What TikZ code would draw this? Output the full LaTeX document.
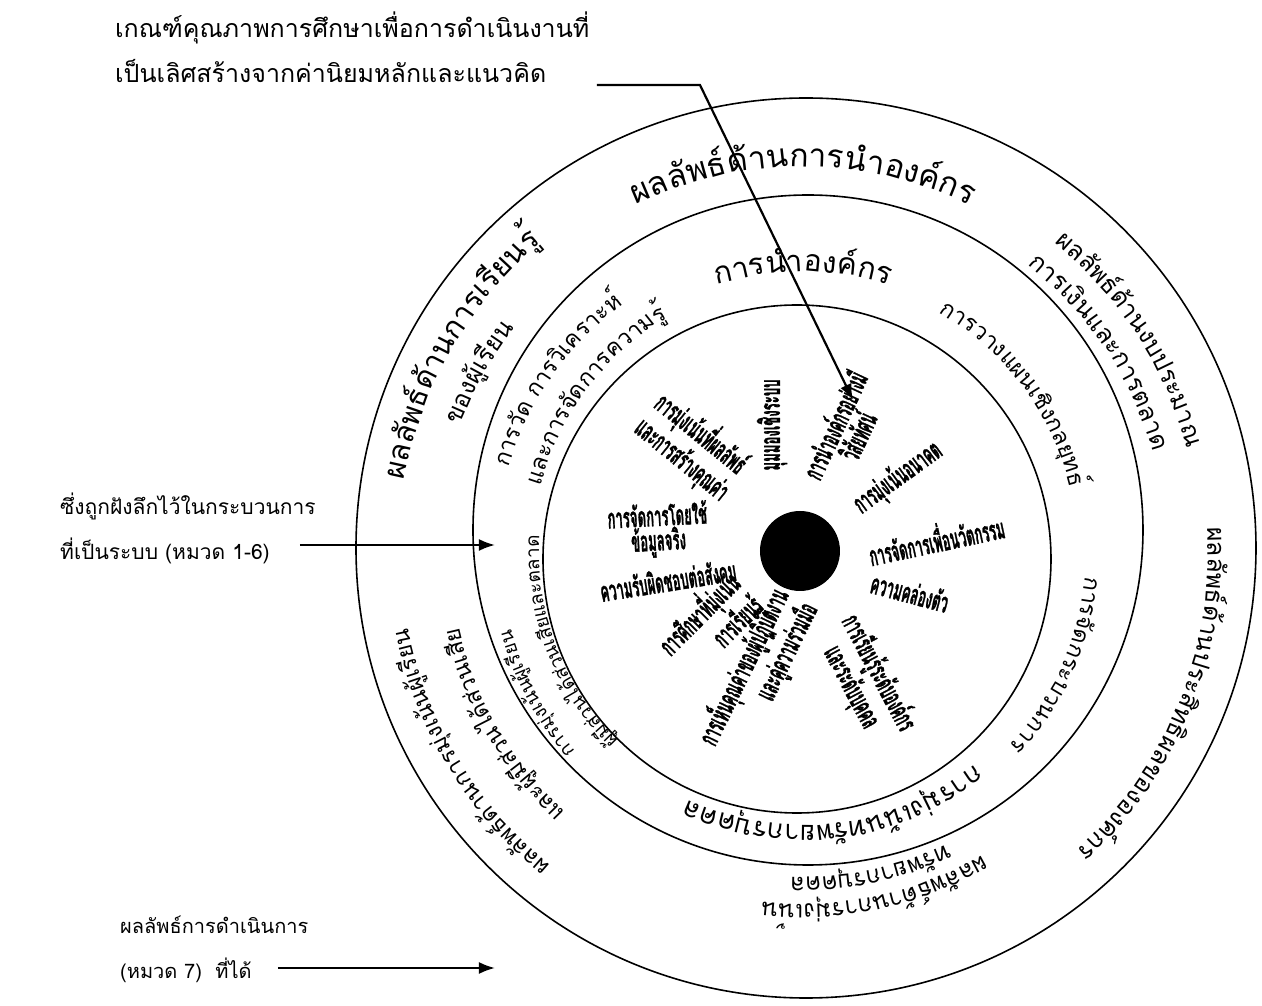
\documentclass[tikz,border=0pt]{standalone}
\usepackage{fontspec}
\newfontfamily\thaifont[Script=Thai]{Loma}
\newfontfamily\thaiheavy[Script=Thai, BoldFeatures={FakeBold=1.5}]{Loma}
\usetikzlibrary{decorations.text,arrows.meta}

\tikzset{
  ring/.style={line width=1.6pt},
  note/.style={font=\thaifont\fontsize{#1}{45}\selectfont, align=left, inner sep=0pt},
  value/.style={font=\thaiheavy\bfseries\fontsize{28}{23}\selectfont, align=center, inner sep=0pt},
  pointer/.style={line width=2.2pt, -{Latex[length=16pt,width=12pt]}},
}

% text set clockwise along an arc round the centre
\newcommand\ringlabel[4]{% radius, mid angle, size, text
  \path[decorate, decoration={text along path, text align=center,
    text={|\thaifont\fontsize{#3}{#3}\selectfont|#4}}]
    (#2+80:#1) arc[start angle=#2+80, end angle=#2-80, radius=#1];
}

\begin{document}
\begin{tikzpicture}[x=1pt, y=1pt]
\useasboundingbox (-803,-454) rectangle (459,552);

% rings and hub
\draw[ring] (3,4) circle (450);
\draw[ring] (5,22) circle (335);
\draw[ring] (-6,-7) circle (254);
\fill (-3,1) circle (40);

% outer ring: results
\ringlabel{385}{90}{32}{{ผล}{ลัพธ์}{ด้าน}{การ}{นำ}{องค์}{กร}}
\ringlabel{398}{33}{25}{{ผล}{ลัพธ์}{ด้าน}{งบ}{ประ}{มาณ}}
\ringlabel{364}{34}{25}{{การ}{เงิน}{และ}{การ}{ตลาด}}
\ringlabel{405}{-22}{25}{{ผล}{ลัพธ์}{ด้าน}{ประ}{สิทธิ}{ผล}{ของ}{องค์}{กร}}
\ringlabel{352}{-78}{24}{{ผล}{ลัพธ์}{ด้าน}{การ}{มุ่ง}{เน้น}}
\ringlabel{325}{-78}{24}{{ทรัพ}{ยา}{กร}{บุค}{คล}}
\ringlabel{402}{211}{23}{{ผล}{ลัพธ์}{ด้าน}{การ}{มุ่ง}{เน้น}{ผู้}{เรียน}}
\ringlabel{352}{210}{23}{{และ}{ผู้}{มี}{ส่วน}{ได้}{ส่วน}{เสีย}}
\ringlabel{405}{150}{30}{{ผล}{ลัพธ์}{ด้าน}{การ}{เรียน}{รู้}}
\ringlabel{365}{151}{25}{{ของ}{ผู้}{เรียน}}

% middle ring: categories 1-6
\ringlabel{280}{90}{30}{{การ}{นำ}{องค์}{กร}}
\ringlabel{275}{37}{23}{{การ}{วาง}{แผน}{เชิง}{กล}{ยุทธ์}}
\ringlabel{283}{-24}{23}{{การ}{จัด}{กระ}{บวน}{การ}}
\ringlabel{273}{-83}{27}{{การ}{มุ่ง}{เน้น}{ทรัพ}{ยา}{กร}{บุค}{คล}}
\ringlabel{302}{208}{19}{{การ}{มุ่ง}{เน้น}{ผู้}{เรียน}}
\ringlabel{264}{201}{19}{{ผู้}{มี}{ส่วน}{ได้}{ส่วน}{เสีย}{และ}{ตลาด}}
\ringlabel{306}{145}{23}{{การ}{วัด}{ }{การ}{วิเคราะห์}}
\ringlabel{270}{143}{23}{{และ}{การ}{จัด}{การ}{ความ}{รู้}}

% core values round the hub
\node[value, rotate=65, xscale=.47] (vision) at (42,122) {การนำองค์กรอย่างมี\\วิสัยทัศน์};
\node[value, rotate=90, xscale=.47] (systems) at (-31,127) {มุมมองเชิงระบบ};
\node[value, rotate=-39, xscale=.47, align=left] (results) at (-110,106) {การมุ่งเน้นที่ผลลัพธ์\\และการสร้างคุณค่า};
\node[value, rotate=3, xscale=.47] (facts) at (-145,22) {การจัดการโดยใช้\\ข้อมูลจริง};
\node[value, rotate=9, xscale=.47] (social) at (-135,-28) {ความรับผิดชอบต่อสังคม};
\node[value, rotate=45, xscale=.47, align=right] (learning) at (-93,-73) {การศึกษาที่มุ่งเน้น\\การเรียนรู้};
\node[value, rotate=64, xscale=.47, align=right] (valuing) at (-45,-122) {การเห็นคุณค่าของผู้ปฏิบัติงาน\\และคู่ความร่วมมือ};
\node[value, rotate=-62, xscale=.47] (orglearn) at (62,-128) {การเรียนรู้ระดับองค์กร\\และระดับบุคคล};
\node[value, rotate=-15, xscale=.47] (agility) at (107,-40) {ความคล่องตัว};
\node[value, rotate=12, xscale=.47] (innov) at (133,14) {การจัดการเพื่อนวัตกรรม};
\node[value, rotate=36, xscale=.47] (future) at (95,74) {การมุ่งเน้นอนาคต};

% notes and pointers
\node[note=25, anchor=north west] (criteria) at (-688,540) {เกณฑ์คุณภาพการศึกษาเพื่อการดำเนินงานที่\\เป็นเลิศสร้างจากค่านิยมหลักและแนวคิด};
\node[note=21, anchor=west] (embedded) at (-743,24) {ซึ่งถูกฝังลึกไว้ในกระบวนการ\\ที่เป็นระบบ (หมวด 1-6)};
\node[note=20, anchor=west] (outcome) at (-683,-397) {ผลลัพธ์การดำเนินการ\\(หมวด 7)\ \ ที่ได้};

\coordinate (criteria-a) at (-206,467);
\coordinate (criteria-b) at (-103,467);
\coordinate (criteria-c) at (50,152);
\coordinate (embedded-a) at (-503,7);
\coordinate (embedded-b) at (-308,7);
\coordinate (outcome-a) at (-525,-416);
\coordinate (outcome-b) at (-308,-416);

\draw[pointer] (criteria-a) -- (criteria-b) -- (criteria-c);
\draw[pointer] (embedded-a) -- (embedded-b);
\draw[pointer] (outcome-a) -- (outcome-b);
\end{tikzpicture}
\end{document}
